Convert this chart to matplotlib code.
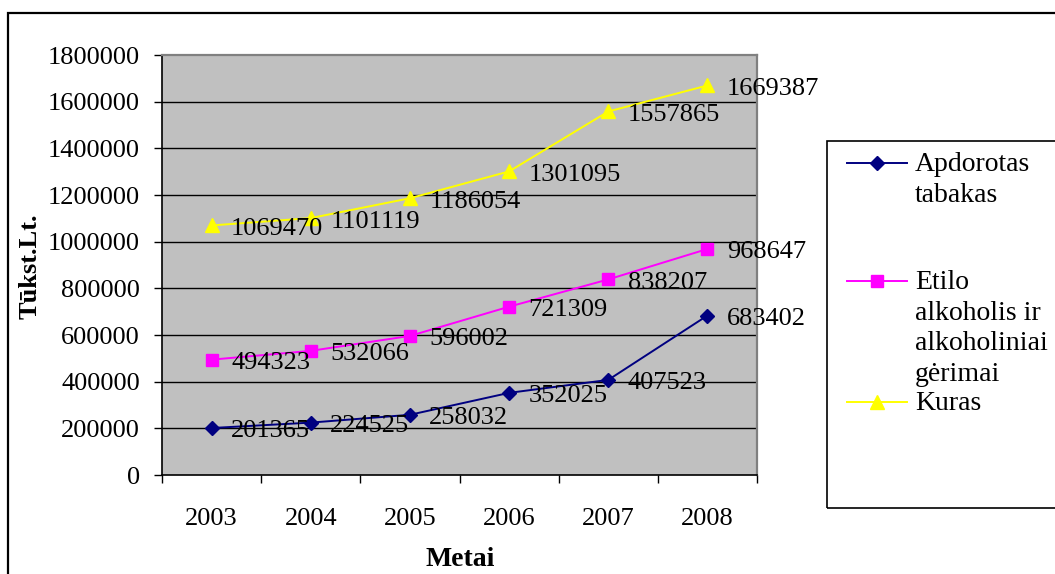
import matplotlib
matplotlib.use("Agg")
import matplotlib.pyplot as plt
from matplotlib.lines import Line2D
from matplotlib.patches import Rectangle
import numpy as np

years = ["2003", "2004", "2005", "2006", "2007", "2008"]
tabakas = [201365, 224525, 258032, 352025, 407523, 683402]
alkoholis = [494323, 532066, 596002, 721309, 838207, 968647]
kuras = [1069470, 1101119, 1186054, 1301095, 1557865, 1669387]
series_names = ["Apdorotas\ntabakas", "Etilo\nalkoholis ir\nalkoholiniai\ngėrimai", "Kuras"]
yticks = [0, 200000, 400000, 600000, 800000, 1000000, 1200000, 1400000, 1600000, 1800000]

plt.rcParams['font.family'] = ['Liberation Serif', 'DejaVu Serif']
FS = 19

W, H = 1055, 574
fig = plt.figure(figsize=(W / 100, H / 100), dpi=100)

# outer frame
fig.patches.append(Rectangle((8 / W, -0.1), 1.2, (574 - 13) / H + 0.1, transform=fig.transFigure,
                             fill=False, edgecolor='black', linewidth=1.6))

ax = fig.add_axes([162 / W, (574 - 475) / H, 595 / W, 420 / H])
ax.set_facecolor('#C0C0C0')
x = np.arange(len(years))

series = [
    (tabakas, '#000080', 'D', 7.5),
    (alkoholis, '#FF00FF', 's', 8),
    (kuras, '#FFFF00', '^', 10),
]

for vals, col, mk, ms in series:
    ax.plot(x, vals, color=col, marker=mk, markersize=ms, linewidth=1.4, zorder=3)
    for xi, v in zip(x, vals):
        ax.annotate(str(v), (xi, v), xytext=(14, -2.5), textcoords='offset points',
                    ha='left', va='center', fontsize=FS, zorder=4, annotation_clip=False)

ax.set_xlim(-0.5, 5.5)
ax.set_ylim(0, 1800000)
ax.set_yticks(yticks)
ax.set_yticklabels([str(t) for t in yticks], fontsize=FS)
for t in yticks[1:-1]:
    ax.axhline(t, color='black', linewidth=1.0, zorder=1)

ax.set_xticks(x)
ax.set_xticklabels(years, fontsize=FS)
ax.set_xticks(np.arange(-0.5, 6.0, 1.0), minor=True)
ax.tick_params(axis='x', which='major', length=0, pad=24)
ax.tick_params(axis='x', which='minor', length=6, width=1, direction='out')
ax.tick_params(axis='y', length=6, width=1, direction='out', pad=10)

for s in ['top', 'right']:
    ax.spines[s].set_color('#808080')
    ax.spines[s].set_linewidth(1.6)
for s in ['left', 'bottom']:
    ax.spines[s].set_color('black')
    ax.spines[s].set_linewidth(1.2)

fig.text(30 / W, 1 - 266 / H, "Tūkst.Lt.", rotation=90, ha='center', va='center',
         fontsize=19, fontweight='bold')
fig.text(460 / W, 1 - 559 / H, "Metai", ha='center', va='center',
         fontsize=20, fontweight='bold')

# legend box
fig.patches.append(Rectangle((827 / W, 1 - 508 / H), 1.0, (508 - 141) / H, transform=fig.transFigure,
                             fill=False, edgecolor='black', linewidth=1.2))
leg_y = [163, 281, 402]
for (vals, col, mk, ms), name, ly in zip(series, series_names, leg_y):
    yy = 1 - ly / H
    fig.lines.append(Line2D([847 / W, 907 / W], [yy, yy], transform=fig.transFigure,
                            color=col, linewidth=1.4))
    fig.lines.append(Line2D([877 / W], [yy], transform=fig.transFigure, color=col,
                            marker=mk, markersize=ms, linestyle='none'))
    fig.text(915 / W, yy + 11 / H, name, ha='left', va='top', fontsize=20, linespacing=1.3)

fig.savefig("out.png", dpi=100)
